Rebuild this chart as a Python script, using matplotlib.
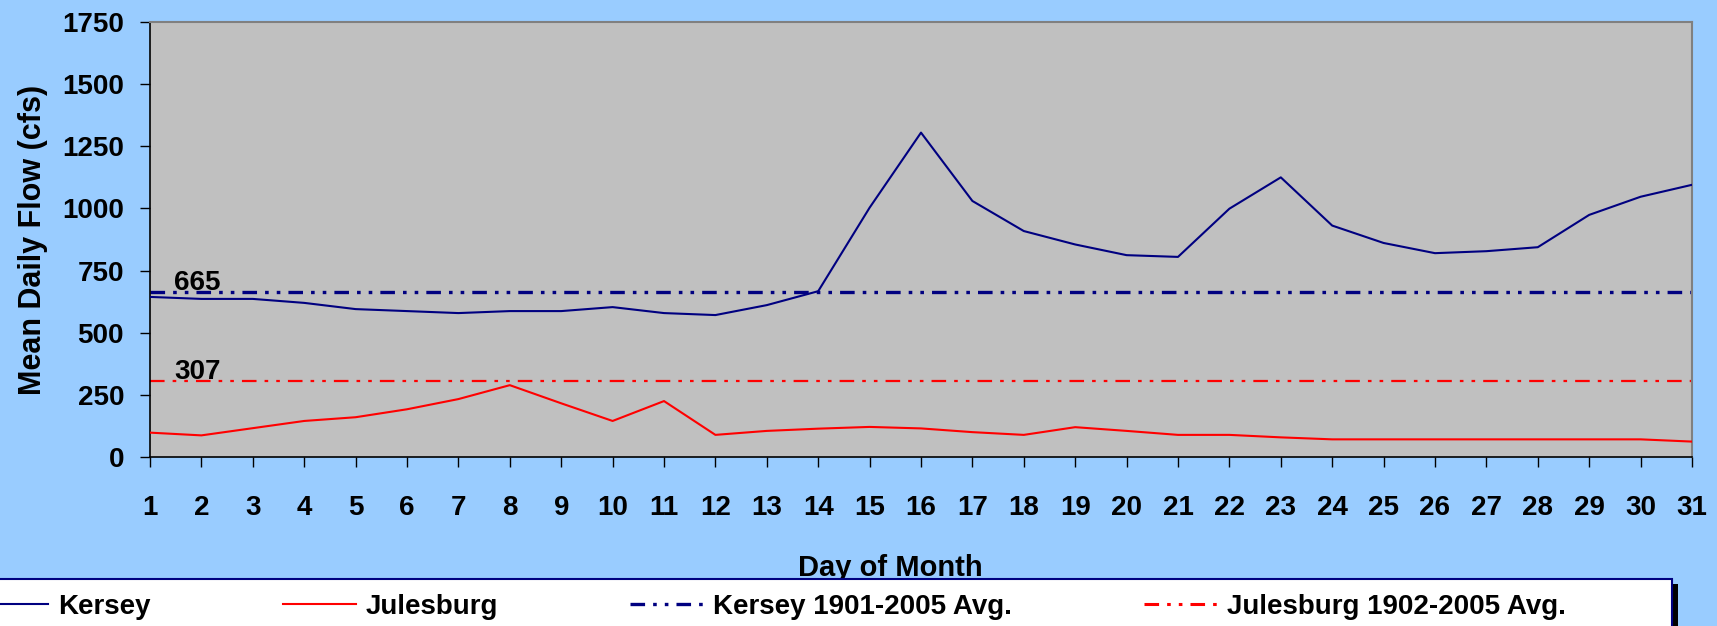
"""
plot.py — Mean daily flow, Kersey vs Julesburg, with long-term averages.

Recreates the Excel-style chart (blue background, gray plot area,
legend strip across the bottom) and saves it to out.png.
"""

import matplotlib

matplotlib.use("Agg")

import matplotlib.pyplot as plt
from matplotlib.lines import Line2D
from matplotlib.patches import Rectangle

# ---------------------------------------------------------------------------
# Data
# ---------------------------------------------------------------------------

days = list(range(1, 32))

kersey = [
    644, 636, 636, 620, 595, 587, 579, 587, 587, 603,
    579, 571, 611, 667, 1003, 1305, 1030, 909, 855, 812,
    805, 999, 1125, 931, 861, 820, 828, 844, 974, 1047, 1095,
]

julesburg = [
    98, 87, 116, 145, 160, 192, 233, 289, 216, 145,
    225, 89, 105, 114, 121, 115, 100, 89, 120, 105,
    89, 89, 79, 71, 71, 71, 71, 71, 71, 71, 62,
]

kersey_avg = 665
julesburg_avg = 307

y_ticks = [0, 250, 500, 750, 1000, 1250, 1500, 1750]

series_labels = [
    "Kersey",
    "Julesburg",
    "Kersey 1901-2005 Avg.",
    "Julesburg 1902-2005 Avg.",
]

# ---------------------------------------------------------------------------
# Style
# ---------------------------------------------------------------------------

W_PX, H_PX, DPI = 1717, 626, 100
BG = "#99CCFF"
PLOT_BG = "#C0C0C0"
NAVY = "#000080"
RED = "#FF0000"
DASH_DOT_DOT = (0, (10.5, 5.8, 2.6, 5.8, 2.6, 5.8))

plt.rcParams["font.family"] = ["Liberation Sans", "DejaVu Sans"]
plt.rcParams["font.weight"] = "bold"
plt.rcParams["lines.scale_dashes"] = False


def px_x(x):
    return x / W_PX


def px_y(y):
    # y measured from the top of the image
    return 1 - y / H_PX


# ---------------------------------------------------------------------------
# Plot
# ---------------------------------------------------------------------------

fig = plt.figure(figsize=(W_PX / DPI, H_PX / DPI), dpi=DPI)
fig.patch.set_facecolor(BG)

left, right, top, bottom = 150, 1692, 22, 457
ax = fig.add_axes([
    px_x(left), px_y(bottom),
    px_x(right - left), (bottom - top) / H_PX,
])
ax.set_facecolor(PLOT_BG)

ax.plot(days, kersey, color=NAVY, lw=1.5, label=series_labels[0], zorder=3)
ax.plot(days, julesburg, color=RED, lw=1.5, label=series_labels[1], zorder=3)
ax.axhline(kersey_avg, color=NAVY, lw=2.4, ls=DASH_DOT_DOT, zorder=2)
ax.axhline(julesburg_avg, color=RED, lw=1.6, ls=DASH_DOT_DOT, zorder=2)

# Average value labels sitting on the lines
ax.text(1.47, kersey_avg + 6, str(kersey_avg), fontsize=20, fontweight="bold",
        va="baseline", ha="left", zorder=4)
ax.text(1.47, julesburg_avg + 6, str(julesburg_avg), fontsize=20,
        fontweight="bold", va="baseline", ha="left", zorder=4)

ax.set_xlim(1, 31)
ax.set_ylim(0, 1750)
ax.set_xticks(days)
ax.set_xticklabels([str(d) for d in days])
ax.set_yticks(y_ticks)

ax.tick_params(axis="x", direction="out", length=7.2, width=1, pad=20,
               labelsize=20, colors="black")
ax.tick_params(axis="y", direction="out", length=7.2, width=1, pad=11.5,
               labelsize=20, colors="black")
for lbl in ax.get_xticklabels() + ax.get_yticklabels():
    lbl.set_fontweight("bold")

for side in ("top", "right"):
    ax.spines[side].set_color("#808080")
    ax.spines[side].set_linewidth(1.5)
for side in ("left", "bottom"):
    ax.spines[side].set_color("black")
    ax.spines[side].set_linewidth(1.2)

ax.set_ylabel("Mean Daily Flow (cfs)", fontsize=22, fontweight="bold",
              va="center")
ax.yaxis.set_label_coords((33 - left) / (right - left), 0.5)
ax.set_xlabel("Day of Month", fontsize=21, fontweight="bold", va="baseline")
ax.xaxis.set_label_coords((890 - left) / (right - left),
                          -(576 - bottom) / (bottom - top))

# ---------------------------------------------------------------------------
# Legend strip along the bottom (white box with navy edge + black shadow)
# ---------------------------------------------------------------------------

box_left, box_right, box_top = -5, 1672, 579
shadow = Rectangle(
    (px_x(box_left + 6), -0.2), px_x(box_right - box_left),
    px_y(box_top + 5) + 0.2,
    transform=fig.transFigure, facecolor="black", edgecolor="none", zorder=1,
)
box = Rectangle(
    (px_x(box_left), -0.2), px_x(box_right - box_left), px_y(box_top) + 0.2,
    transform=fig.transFigure, facecolor="white", edgecolor=NAVY, lw=1.5,
    zorder=2,
)
fig.patches.extend([shadow, box])

handles = [
    Line2D([], [], color=NAVY, lw=1.5),
    Line2D([], [], color=RED, lw=1.5),
    Line2D([], [], color=NAVY, lw=2.4, ls=DASH_DOT_DOT),
    Line2D([], [], color=RED, lw=2.2, ls=DASH_DOT_DOT),
]
leg = fig.legend(
    handles, series_labels,
    ncol=4, loc="center left",
    bbox_to_anchor=(px_x(-25), px_y(607)),
    frameon=False, borderpad=0, borderaxespad=0,
    handlelength=2.63, handletextpad=0.36, columnspacing=4.75,
    prop={"size": 20, "weight": "bold"},
)
leg.set_zorder(5)

fig.savefig("out.png", dpi=DPI, facecolor=fig.get_facecolor())
plt.close(fig)
